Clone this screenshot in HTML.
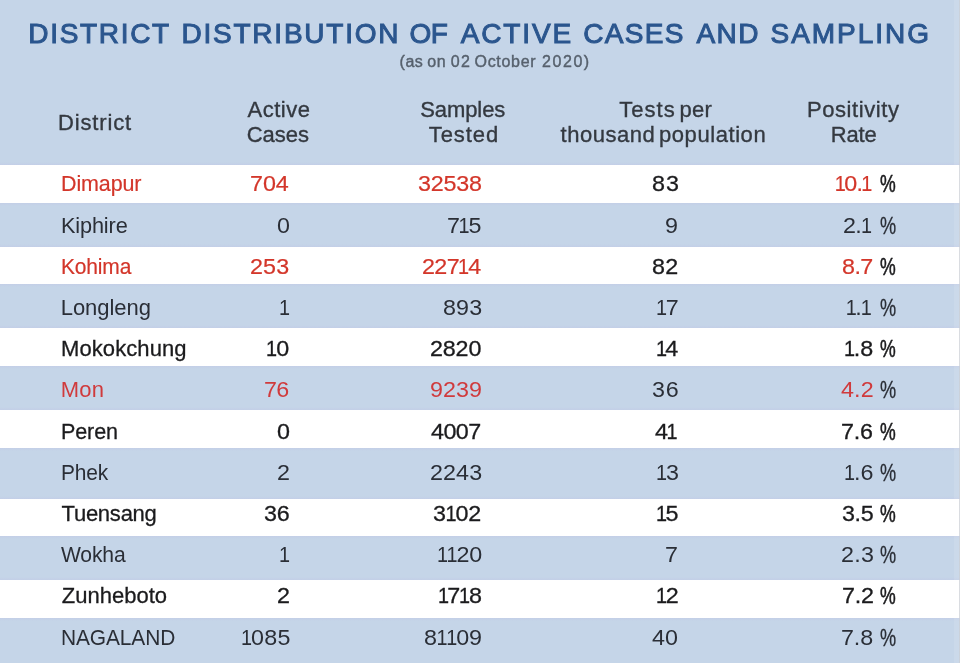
<!DOCTYPE html>
<html lang="en">
<head>
<meta charset="utf-8">
<title>District distribution of active cases and sampling</title>
<style>
html,body{margin:0;padding:0}
body{width:960px;height:663px;overflow:hidden;background:#c5d5e8;position:relative;font-family:"Liberation Sans",sans-serif;}
h1,p{margin:0;font-weight:400;font-size:inherit}
.x{position:absolute;white-space:nowrap;line-height:1;transform-origin:0 0;}
.ti{font-size:28px;color:#2b568e;-webkit-text-stroke:1px #2b568e;}
.su{font-size:16px;color:#56606c;-webkit-text-stroke:.4px #56606c;}
.hd{font-size:22px;color:#343940;-webkit-text-stroke:.35px #343940;}
.c,.pc{font-size:22px;color:#2a2e36;}
.pc{font-size:23px;}
.w .c{color:#1b1b1d;-webkit-text-stroke:.3px #1b1b1d;}
.pc{-webkit-text-stroke:.3px #2a2e36;}
.w .pc{color:#1b1b1d;-webkit-text-stroke:.55px #1b1b1d;}
.c.r{color:#d03a3c;}
.w .c.r{color:#d3362a;-webkit-text-stroke:.2px #d3362a;}
.c i{font-style:normal;display:inline-block;transform:scaleX(.85);margin:0 -1.5px;}

.n{transform:scaleX(1.06);}
.row{position:absolute;left:0;width:960px;}
.row.w{background:#fff;}
.row.w::before,.row.w::after{content:"";position:absolute;left:0;width:100%;height:3px;background:linear-gradient(to bottom,rgba(205,205,240,0),rgba(190,190,228,.28));}
.row.w::before{top:-3px;}
.row.w::after{bottom:-3px;transform:scaleY(-1);}
.edge{position:absolute;left:954px;top:0;width:6px;height:663px;background:linear-gradient(to right,rgba(255,255,255,.1) 0,rgba(255,255,255,.1) 5px,rgba(205,208,214,.75) 5px);}
</style>
</head>
<body>
<h1><span class="x ti" style="left:28.25px;top:20px;letter-spacing:1.69px;">DISTRICT</span> <span class="x ti" style="left:181.5px;top:20px;letter-spacing:1.77px;">DISTRIBUTION</span> <span class="x ti" style="left:409.5px;top:20px;letter-spacing:-0.45px;">OF</span> <span class="x ti" style="left:460.75px;top:20px;letter-spacing:1.85px;">ACTIVE</span> <span class="x ti" style="left:583.25px;top:20px;letter-spacing:1.34px;">CASES</span> <span class="x ti" style="left:696.5px;top:20px;letter-spacing:1.38px;">AND</span> <span class="x ti" style="left:770.5px;top:20px;letter-spacing:1.98px;">SAMPLING</span></h1>
<p><span class="x su" style="left:399.5px;top:54px;letter-spacing:0.55px;">(as</span> <span class="x su" style="left:427.25px;top:54px;letter-spacing:0.7px;">on</span> <span class="x su" style="left:450.75px;top:54px;letter-spacing:1.4px;">02</span> <span class="x su" style="left:474.5px;top:54px;letter-spacing:0.7px;">October</span> <span class="x su" style="left:542px;top:54px;letter-spacing:1.56px;">2020)</span></p>
<div class="head">
<div><span class="x hd" style="left:58px;top:112px;letter-spacing:0.84px;">District</span></div>
<div><span class="x hd" style="left:247.5px;top:99px;letter-spacing:0.5px;">Active</span> <span class="x hd" style="left:246.75px;top:124px;letter-spacing:-0.03px;">Cases</span></div>
<div><span class="x hd" style="left:420.25px;top:99px;letter-spacing:-0.09px;">Samples</span> <span class="x hd" style="left:428.75px;top:124px;letter-spacing:0.93px;">Tested</span></div>
<div><span class="x hd" style="left:619.25px;top:99px;letter-spacing:1.03px;">Tests</span> <span class="x hd" style="left:679.5px;top:99px;letter-spacing:0.23px;">per</span> <span class="x hd" style="left:560.5px;top:124px;letter-spacing:0.53px;">thousand</span> <span class="x hd" style="left:659px;top:124px;letter-spacing:0.57px;">population</span></div>
<div><span class="x hd" style="left:807px;top:99px;letter-spacing:0.57px;">Positivity</span> <span class="x hd" style="left:830.75px;top:124px;letter-spacing:-0.2px;">Rate</span></div>
</div>
<div class="row w" style="top:165px;height:38px"><span class="x c r" style="left:60.75px;top:8px;letter-spacing:-0.12px;transform:scaleX(0.976);">Dimapur</span> <span class="x c r n" style="left:250.25px;top:8px;letter-spacing:-0.07px;">704</span> <span class="x c r n" style="left:417.5px;top:8px;letter-spacing:-0.18px;">32538</span> <span class="x c n" style="left:651.5px;top:8px;letter-spacing:0.94px;">83</span> <span class="x c r n" style="left:834.5px;top:8px;letter-spacing:-0.6px;"><i>1</i>0.<i>1</i></span> <span class="x pc" style="left:879.75px;top:8px;transform:scaleX(0.769);">%</span></div>
<div class="row" style="top:203px;height:44px"><span class="x c" style="left:60.75px;top:12px;letter-spacing:-0.14px;transform:scaleX(0.986);">Kiphire</span> <span class="x c n" style="left:276.5px;top:12px;">0</span> <span class="x c n" style="left:447px;top:12px;letter-spacing:-0.59px;">7<i>1</i>5</span> <span class="x c n" style="left:665.25px;top:12px;">9</span> <span class="x c n" style="left:843px;top:12px;letter-spacing:-0.6px;">2.<i>1</i></span> <span class="x pc" style="left:879.5px;top:12px;transform:scaleX(0.789);">%</span></div>
<div class="row w" style="top:247px;height:37px"><span class="x c r" style="left:61px;top:9px;letter-spacing:-0.18px;transform:scaleX(0.954);">Kohima</span> <span class="x c r n" style="left:250.25px;top:9px;letter-spacing:0.14px;">253</span> <span class="x c r n" style="left:422px;top:9px;letter-spacing:-0.6px;">227<i>1</i>4</span> <span class="x c n" style="left:652.25px;top:9px;letter-spacing:0.24px;">82</span> <span class="x c r n" style="left:841.75px;top:9px;letter-spacing:-0.52px;">8.7</span> <span class="x pc" style="left:879.75px;top:9px;transform:scaleX(0.769);">%</span></div>
<div class="row" style="top:284px;height:44px"><span class="x c" style="left:60.75px;top:13px;letter-spacing:-0.05px;">Longleng</span> <span class="x c n" style="left:279px;top:13px;"><i>1</i></span> <span class="x c n" style="left:442.75px;top:13px;letter-spacing:0.12px;">893</span> <span class="x c n" style="left:656px;top:13px;"><i>1</i>7</span> <span class="x c n" style="left:846.25px;top:13px;letter-spacing:-0.6px;"><i>1</i>.<i>1</i></span> <span class="x pc" style="left:879.5px;top:13px;transform:scaleX(0.789);">%</span></div>
<div class="row w" style="top:328px;height:38px"><span class="x c" style="left:61px;top:10px;letter-spacing:0.09px;">Mokokchung</span> <span class="x c n" style="left:266.25px;top:10px;letter-spacing:0.33px;"><i>1</i>0</span> <span class="x c n" style="left:430.25px;top:10px;letter-spacing:-0.16px;">2820</span> <span class="x c n" style="left:655.75px;top:10px;letter-spacing:-0.47px;"><i>1</i>4</span> <span class="x c n" style="left:844px;top:10px;"><i>1</i>.8</span> <span class="x pc" style="left:879.75px;top:10px;transform:scaleX(0.769);">%</span></div>
<div class="row" style="top:366px;height:44px"><span class="x c r" style="left:60.75px;top:13px;letter-spacing:0.2px;">Mon</span> <span class="x c r n" style="left:264.25px;top:13px;letter-spacing:-0.61px;">76</span> <span class="x c r n" style="left:430px;top:13px;">9239</span> <span class="x c n" style="left:652.25px;top:13px;letter-spacing:0.71px;">36</span> <span class="x c r n" style="left:841px;top:13px;letter-spacing:0.12px;">4.2</span> <span class="x pc" style="left:879.5px;top:13px;transform:scaleX(0.789);">%</span></div>
<div class="row w" style="top:410px;height:38px"><span class="x c" style="left:60.75px;top:11px;letter-spacing:-0.12px;transform:scaleX(0.978);">Peren</span> <span class="x c n" style="left:276.5px;top:11px;">0</span> <span class="x c n" style="left:431.25px;top:11px;letter-spacing:-0.55px;">4007</span> <span class="x c n" style="left:655.25px;top:11px;letter-spacing:-0.6px;">4<i>1</i></span> <span class="x c n" style="left:841.25px;top:11px;letter-spacing:-0.24px;">7.6</span> <span class="x pc" style="left:879.75px;top:11px;transform:scaleX(0.769);">%</span></div>
<div class="row" style="top:448px;height:51px"><span class="x c" style="left:60.75px;top:14px;letter-spacing:-0.12px;transform:scaleX(0.95);">Phek</span> <span class="x c n" style="left:277px;top:14px;">2</span> <span class="x c n" style="left:429.75px;top:14px;letter-spacing:0.08px;">2243</span> <span class="x c n" style="left:655.5px;top:14px;letter-spacing:0.24px;"><i>1</i>3</span> <span class="x c n" style="left:844px;top:14px;letter-spacing:0.12px;"><i>1</i>.6</span> <span class="x pc" style="left:879.5px;top:14px;transform:scaleX(0.789);">%</span></div>
<div class="row w" style="top:499px;height:37px"><span class="x c" style="left:61.5px;top:4px;letter-spacing:-0.24px;">Tuensang</span> <span class="x c n" style="left:263.5px;top:4px;letter-spacing:-0.14px;">36</span> <span class="x c n" style="left:433.25px;top:4px;letter-spacing:-0.16px;">3<i>1</i>02</span> <span class="x c n" style="left:655.75px;top:4px;letter-spacing:-0.24px;"><i>1</i>5</span> <span class="x c n" style="left:841.75px;top:4px;letter-spacing:-0.35px;">3.5</span> <span class="x pc" style="left:879.75px;top:4px;transform:scaleX(0.769);">%</span></div>
<div class="row" style="top:536px;height:44px"><span class="x c" style="left:61px;top:8px;letter-spacing:-0.17px;transform:scaleX(0.959);">Wokha</span> <span class="x c n" style="left:279px;top:8px;"><i>1</i></span> <span class="x c n" style="left:436.5px;top:8px;letter-spacing:-0.08px;"><i>1</i><i>1</i>20</span> <span class="x c n" style="left:664.5px;top:8px;">7</span> <span class="x c n" style="left:840.75px;top:8px;letter-spacing:0.24px;">2.3</span> <span class="x pc" style="left:879.5px;top:8px;transform:scaleX(0.789);">%</span></div>
<div class="row w" style="top:580px;height:38px"><span class="x c" style="left:61.75px;top:5px;letter-spacing:0.01px;">Zunheboto</span> <span class="x c n" style="left:277px;top:5px;">2</span> <span class="x c n" style="left:437.5px;top:5px;letter-spacing:-0.47px;"><i>1</i>7<i>1</i>8</span> <span class="x c n" style="left:655.75px;top:5px;"><i>1</i>2</span> <span class="x c n" style="left:841.5px;top:5px;letter-spacing:-0.24px;">7.2</span> <span class="x pc" style="left:879.75px;top:5px;transform:scaleX(0.769);">%</span></div>
<div class="row" style="top:618px;height:45px"><span class="x c" style="left:60.75px;top:9px;letter-spacing:-0.13px;transform:scaleX(0.951);">NAGALAND</span> <span class="x c n" style="left:240.5px;top:9px;letter-spacing:0.27px;"><i>1</i>085</span> <span class="x c n" style="left:423.75px;top:9px;letter-spacing:-0.12px;">8<i>1</i><i>1</i>09</span> <span class="x c n" style="left:652.25px;top:9px;">40</span> <span class="x c n" style="left:841.25px;top:9px;letter-spacing:-0.12px;">7.8</span> <span class="x pc" style="left:879.5px;top:9px;transform:scaleX(0.789);">%</span></div>
<div class="edge"></div>
</body>
</html>
